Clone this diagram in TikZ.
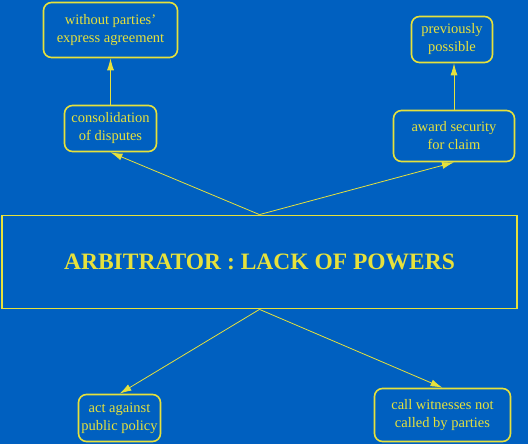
\documentclass[tikz,border=0pt]{standalone}
\usepackage{fontspec}
\setmainfont{Liberation Serif}
\usetikzlibrary{arrows.meta}
\definecolor{bgblue}{RGB}{0,96,192}
\definecolor{ylw}{RGB}{230,225,60}
\begin{document}
\begin{tikzpicture}[x=1pt,y=-1pt,
  smallbox/.style={draw=ylw, line width=1.6pt, rounded corners=8pt, text=ylw,
    align=center, font=\fontsize{14.5}{18}\selectfont, inner sep=0pt},
  mainbox/.style={draw=ylw, line width=1.8pt, text=ylw,
    font=\fontsize{23.5}{28}\selectfont\bfseries, inner sep=0pt},
  arr/.style={draw=ylw, line width=0.8pt, -{Latex[length=12pt,width=7pt]}}]
\fill[bgblue] (0,0) rectangle (528,444);
\useasboundingbox (0,0) rectangle (528,444);
\node[smallbox, minimum width=134pt, minimum height=55pt] (wpa) at (110.5,30) {without parties'\\express agreement};
\node[smallbox, minimum width=81pt, minimum height=46pt] (prev) at (452,39.5) {previously\\possible};
\node[smallbox, minimum width=92pt, minimum height=46pt] (cons) at (110.5,128.5) {consolidation\\of disputes};
\node[smallbox, minimum width=121pt, minimum height=51pt] (award) at (454,136) {award security\\for claim};
\node[mainbox, minimum width=515pt, minimum height=93pt] (main) at (259.5,262) {ARBITRATOR : LACK OF POWERS};
\node[smallbox, minimum width=82pt, minimum height=47pt] (act) at (119.5,418) {act against\\public policy};
\node[smallbox, minimum width=136pt, minimum height=53pt] (call) at (442.5,415) {call witnesses not\\called by parties};
\draw[arr] (cons.north) -- (cons.north |- wpa.south);
\draw[arr] (award.north) -- (award.north |- prev.south);
\draw[arr] (main.north) -- (cons.south);
\draw[arr] (main.north) -- (award.south);
\draw[arr] (main.south) -- (act.north);
\draw[arr] (main.south) -- (call.north);
\end{tikzpicture}
\end{document}
